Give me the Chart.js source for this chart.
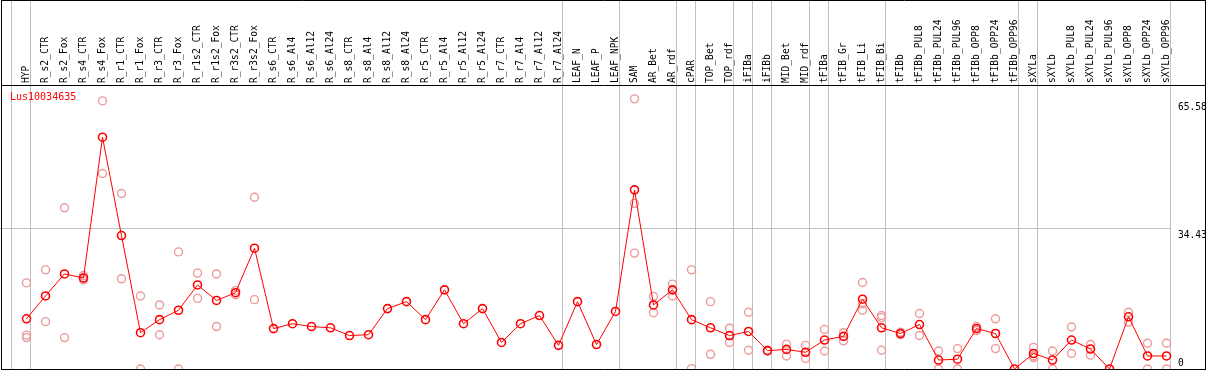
<!DOCTYPE html>
<html>
<head>
<meta charset="utf-8">
<script src="https://cdn.jsdelivr.net/npm/chart.js@4/dist/chart.umd.min.js"></script>
<style>
  html, body { margin:0; padding:0; background:#fff; }
  #wrap { width:1209px; height:370px; position:relative; }
</style>
</head>
<body>
<div id="wrap"><canvas id="geneChart"></canvas></div>
<script>
const GENE = 'Lus10034635';
const CATEGORIES = ['HYP','R_s2_CTR','R_s2_Fox','R_s4_CTR','R_s4_Fox','R_r1_CTR','R_r1_Fox','R_r3_CTR','R_r3_Fox',
  'R_r1s2_CTR','R_r1s2_Fox','R_r3s2_CTR','R_r3s2_Fox','R_s6_CTR','R_s6_Al4','R_s6_Al12','R_s6_Al24',
  'R_s8_CTR','R_s8_Al4','R_s8_Al12','R_s8_Al24','R_r5_CTR','R_r5_Al4','R_r5_Al12','R_r5_Al24',
  'R_r7_CTR','R_r7_Al4','R_r7_Al12','R_r7_Al24','LEAF_N','LEAF_P','LEAF_NPK','SAM','AR_Bet','AR_rdf',
  'cPAR','TOP_Bet','TOP_rdf','iFIBa','iFIBb','MID_Bet','MID_rdf','tFIBa','tFIB_Gr','tFIB_Li','tFIB_Bi',
  'tFIBb','tFIBb_PUL8','tFIBb_PUL24','tFIBb_PUL96','tFIBb_OPP8','tFIBb_OPP24','tFIBb_OPP96',
  'sXYLa','sXYLb','sXYLb_PUL8','sXYLb_PUL24','sXYLb_PUL96','sXYLb_OPP8','sXYLb_OPP24','sXYLb_OPP96'];
const MEANS = [12.3,17.9,23.3,22.3,56.8,32.7,8.9,12.1,14.4,20.6,16.8,18.7,29.6,9.9,11.1,10.4,10.1,
  8.2,8.4,14.8,16.5,12.1,19.4,11.1,14.8,6.5,11.1,13.1,5.8,16.5,6.0,14.1,43.9,15.7,19.4,
  12.1,10.1,8.2,9.2,4.5,4.8,4.1,7.1,8.0,17.1,10.1,8.7,10.9,2.2,2.4,9.9,8.7,0,
  3.8,2.2,7.1,4.9,0,12.8,3.2,3.2];
// replicates (null = none shown)
const REP_A = [21.1,24.3,39.5,22.9,65.7,43.0,17.9,15.7,28.7,23.5,23.3,19.2,42.1,null,null,null,null,
  null,null,null,null,null,null,null,null,null,null,null,null,null,null,null,66.2,17.8,20.8,
  24.3,16.5,10.0,13.9,4.6,6.1,5.8,9.7,8.9,21.2,13.1,9.0,13.6,4.4,5.0,10.4,12.3,null,
  5.3,4.4,10.3,6.0,null,13.9,6.3,6.3];
const REP_B = [8.3,11.6,7.7,22.3,47.9,22.1,0,8.4,0,17.3,10.4,18.2,17.0,null,null,null,null,
  null,null,null,null,null,null,null,null,null,null,null,null,null,null,null,40.6,13.8,17.9,
  0.1,3.6,6.5,4.6,4.4,3.2,2.6,4.4,6.9,16.0,12.6,8.4,8.2,0,0,9.4,5.0,null,
  3.2,0,3.8,3.4,null,11.5,0,0];
const REP_C = [7.7,null,null,21.8,null,null,null,null,null,null,null,null,null,null,null,null,null,
  null,null,null,null,null,null,null,null,null,null,null,null,null,null,null,28.4,null,null,
  null,null,null,null,null,null,null,null,null,14.4,4.6,null,null,null,null,null,null,null,
  2.8,null,null,null,null,null,null,null];
const Y_TICKS = [0, 34.43, 65.58];
const GROUP_ENDS = [-1, 0, 28, 31, 34, 35, 37, 38, 39, 41, 42, 45, 52, 53, 60];

const FONT = '"DejaVu Sans Mono", monospace';
const LABEL_SIZE = 9.6;
const RED = '#ff0000';
const PINK = '#ec9a9a';
const GRID = '#c0c0c0';

function repPoints(){
  const pts = [];
  [REP_A, REP_B, REP_C].forEach(rep => {
    rep.forEach((v, i) => { if (v !== null) pts.push({x: i, y: v}); });
  });
  return pts;
}

function noPad(s){
  s.paddingLeft = 0; s.paddingRight = 0; s.paddingTop = 0; s.paddingBottom = 0;
}

const frame = {
  id: 'frame',
  beforeDatasetsDraw(chart){
    const {ctx, chartArea, scales: {x}} = chart;
    ctx.save();
    ctx.strokeStyle = GRID; ctx.lineWidth = 1;
    GROUP_ENDS.forEach(i => {
      const px = Math.floor(x.getPixelForValue(i + 0.21)) + 0.5;
      ctx.beginPath(); ctx.moveTo(px, 0); ctx.lineTo(px, chartArea.bottom); ctx.stroke();
    });
    ctx.restore();
  },
  afterDraw(chart){
    const {ctx, chartArea, scales: {y}} = chart;
    ctx.save();
    // outer frame + header rule
    ctx.strokeStyle = '#000'; ctx.lineWidth = 1;
    ctx.beginPath();
    ctx.moveTo(1.5, 0.5); ctx.lineTo(1205.5, 0.5);
    ctx.moveTo(1.5, chartArea.top + 0.5); ctx.lineTo(1205.5, chartArea.top + 0.5);
    ctx.moveTo(1.5, chartArea.bottom + 0.5); ctx.lineTo(1205.5, chartArea.bottom + 0.5);
    ctx.moveTo(1.5, 0); ctx.lineTo(1.5, chartArea.bottom + 1);
    ctx.moveTo(1205.5, 0); ctx.lineTo(1205.5, chartArea.bottom + 1);
    ctx.stroke();
    // gene name
    ctx.fillStyle = RED; ctx.font = '10px ' + FONT;
    ctx.textBaseline = 'alphabetic'; ctx.textAlign = 'left';
    ctx.fillText(GENE, chartArea.left + 10, chartArea.top + 15);
    // right axis values
    ctx.fillStyle = '#000'; ctx.font = LABEL_SIZE + 'px ' + FONT;
    Y_TICKS.forEach(v => {
      const py = y.getPixelForValue(v);
      ctx.fillText(String(v), chartArea.right + 8, v === 0 ? py - 3 : py + 9);
    });
    ctx.restore();
  }
};

const ctx = document.getElementById('geneChart').getContext('2d');
new Chart(ctx, {
  type: 'line',
  data: {
    datasets: [
      { data: MEANS.map((v, i) => ({x: i, y: v})), borderColor: RED, borderWidth: 1, tension: 0,
        pointRadius: 4, pointBorderWidth: 1.6, pointBorderColor: RED, pointBackgroundColor: 'rgba(0,0,0,0)',
        clip: false, order: 0 },
      { type: 'scatter', data: repPoints(), showLine: false, pointRadius: 4, pointBorderWidth: 1.4,
        pointBorderColor: PINK, pointBackgroundColor: 'rgba(0,0,0,0)', clip: false, order: 1 }
    ]
  },
  options: {
    responsive: true, maintainAspectRatio: false, animation: false,
    layout: { autoPadding: false, padding: { left: 0, right: 0, top: 0, bottom: 1 } },
    plugins: { legend: { display: false }, tooltip: { enabled: false } },
    scales: {
      x: {
        type: 'linear', position: 'top', min: -1.3947, max: 60.184,
        afterBuildTicks: s => { s.ticks = CATEGORIES.map((_, i) => ({value: i})); },
        afterFit: s => { s.height = 85; noPad(s); },
        ticks: { autoSkip: false, minRotation: 90, maxRotation: 90, padding: 2, color: '#000',
          labelOffset: LABEL_SIZE * 1.2, font: { family: FONT, size: LABEL_SIZE }, callback: v => CATEGORIES[v] },
        grid: { display: false, drawTicks: false }, border: { display: false }
      },
      y: {
        type: 'linear', position: 'right', min: 0, max: 69.6,
        afterBuildTicks: s => { s.ticks = Y_TICKS.map(v => ({value: v})); },
        afterFit: s => { s.width = 39; noPad(s); },
        ticks: { display: false },
        grid: { drawTicks: false, color: c => c.tick && c.tick.value === 34.43 ? GRID : 'rgba(0,0,0,0)' },
        border: { display: false }
      }
    }
  },
  plugins: [frame]
});
</script>
</body>
</html>
